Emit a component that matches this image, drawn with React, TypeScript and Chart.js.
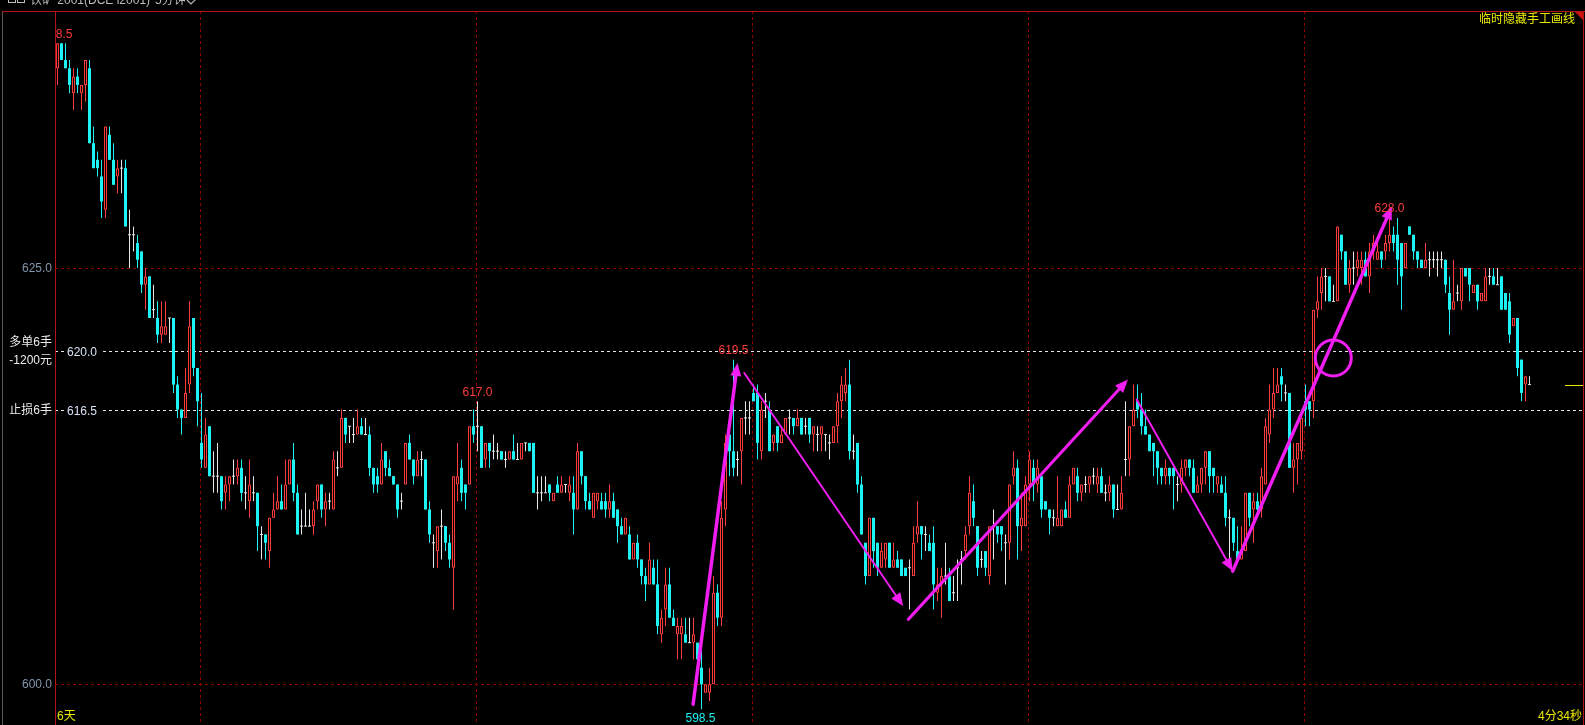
import React, { useEffect, useRef } from 'react';
import { Chart, registerables } from 'chart.js';

Chart.register(...registerables);

// ---- data: 5-minute bars of iron ore i2001 ----
const opens = [
  637, 638.5, 637.5, 637, 635.5, 636.5, 635.5, 636, 637, 632.5,
  631.5, 630.5, 628.5, 633, 631.5, 630.5, 631, 631, 627, 627,
  626.5, 626, 624, 624.5, 622.5, 622, 621, 621, 622, 622,
  618, 616.5, 616, 618, 622, 619, 614.5, 613, 615.5, 612.5,
  612.5, 612.5, 611.5, 612, 612.5, 612.5, 613, 611.5, 611, 611.5,
  611.5, 609, 609, 608, 610, 610.5, 611, 610.5, 612, 613.5,
  611.5, 609.5, 609.5, 609.5, 609.5, 611, 612, 610.5, 611, 610.5,
  613, 613, 616, 615.5, 615, 615, 615.5, 615, 615, 613,
  612.5, 612, 614, 613, 612.5, 612, 611, 612, 614.5, 613.5,
  612.5, 613.5, 613.5, 610.5, 608.5, 608, 609.5, 609.5, 608.5, 607,
  612, 613, 612, 612, 615.5, 615.5, 615.5, 613.5, 614.5, 614,
  614, 614, 613.5, 613.5, 614, 613.5, 613.5, 614.5, 614.5, 614.5,
  611.5, 611.5, 611.5, 612, 611, 612, 611.5, 612, 611.5, 611.5,
  610.5, 614, 612.5, 611, 610, 611, 611, 611, 610.5, 611,
  610.5, 609.5, 609, 609, 607.5, 608.5, 607.5, 606.5, 606, 607,
  606, 603, 604.5, 606, 604, 603, 603, 603, 602.5, 602.5,
  602.5, 601, 599.5, 599.5, 600, 605.5, 604, 610.5, 615, 614,
  613.5, 614, 616, 616, 617.5, 617.5, 614, 617, 616.5, 614.5,
  615.5, 614.5, 615, 616, 616, 615.5, 616, 615.5, 616, 615,
  615, 615, 615, 614.5, 614.5, 615.5, 617, 617.5, 618, 614,
  614.5, 612, 608.5, 606.5, 610, 608.5, 607, 607.5, 608.5, 607,
  607.5, 607.5, 607, 607, 606.5, 609, 609.5, 609, 608.5, 608.5,
  605.5, 606, 606.5, 606.5, 605.5, 607, 607.5, 608, 609.5, 611,
  609.5, 607.5, 608, 606.5, 609.5, 609.5, 609.5, 608.5, 608.5, 612.5,
  613, 609.5, 609.5, 612, 613, 612, 612.5, 611, 610.5, 610,
  609.5, 609.5, 610.5, 610, 612, 612.5, 611.5, 612, 612, 612.5,
  612, 612.5, 611.5, 611.5, 612, 610.5, 610.5, 613.5, 613.5, 615.5,
  617, 616.5, 615.5, 615, 614.5, 614, 613, 612.5, 613, 613,
  612, 612, 613, 613.5, 613, 611.5, 612, 613, 614, 613,
  612, 612, 611.5, 610, 610, 608, 607.5, 608, 611.5, 610.5,
  611, 610.5, 612, 615, 616.5, 617.5, 618.5, 617.5, 617.5, 613,
  613.5, 614, 617, 617, 617, 622.5, 623.5, 624.5, 624.5, 623,
  623, 627, 626, 624, 625, 625, 625, 625.5, 624.5, 626,
  625.5, 626, 626, 626.5, 627, 627, 626.5, 625, 627.5, 627,
  626, 625.5, 625, 625.5, 625.5, 625.5, 625.5, 625.5, 623.5, 622.5,
  623.5, 623, 625, 625, 623.5, 624, 623, 623, 624.5, 624.5,
  624, 624.5, 623.5, 623, 621.5, 622, 619.5, 618, 618,
];

const highs = [
  638.5, 638.5, 638.5, 637.5, 637, 637, 636, 637.5, 637.5, 633.5,
  632, 631.5, 633.5, 633.5, 632.5, 631.5, 631.5, 631.5, 628.5, 627.5,
  627, 626, 625, 624.5, 624, 623, 623, 623, 622, 622,
  618.5, 616.5, 619, 623, 622, 619, 617.5, 616, 615.5, 614,
  614.5, 612.5, 612.5, 612.5, 613.5, 613.5, 613.5, 612.5, 613.5, 612.5,
  611.5, 609.5, 609, 610, 611.5, 612.5, 612, 613.5, 613.5, 614.5,
  612, 610.5, 611.5, 610.5, 611, 612, 612, 611.5, 611.5, 614,
  614, 616.5, 616, 615.5, 616, 616.5, 616, 616, 615.5, 613,
  613, 614.5, 614, 613.5, 612.5, 612, 611.5, 614.5, 615, 613.5,
  614, 614, 613.5, 611, 609, 609.5, 610.5, 609.5, 609, 612.5,
  614.5, 613.5, 612, 615.5, 616.5, 617, 615.5, 614.5, 614.5, 615,
  614.5, 614, 614, 614, 615, 614.5, 614.5, 614.5, 614.5, 614.5,
  612.5, 612.5, 612.5, 612, 611.5, 612.5, 612.5, 612, 612.5, 612.5,
  614.5, 614, 612.5, 611.5, 611.5, 611.5, 611.5, 611.5, 612, 611.5,
  610.5, 610, 610, 609.5, 608.5, 609, 607.5, 607, 608.5, 607.5,
  607.5, 604.5, 607, 607, 604.5, 604, 604, 604, 604, 604,
  602.5, 602, 600, 601, 606.5, 606, 611, 615, 616, 619.5,
  614, 616, 617, 617, 618, 618, 617, 617.5, 617, 615,
  615.5, 615.5, 616, 616.5, 616, 616.5, 616, 616, 616, 615.5,
  615.5, 615.5, 615, 615, 615.5, 617.5, 618.5, 619, 619.5, 615,
  614.5, 612.5, 608.5, 610, 610, 608.5, 608.5, 608.5, 608.5, 608.5,
  608, 607.5, 607, 607.5, 609.5, 611, 609.5, 609.5, 609, 609.5,
  607, 607, 608.5, 607, 606.5, 607.5, 608, 609.5, 612.5, 612,
  609.5, 608, 608, 609.5, 610.5, 609.5, 609.5, 609, 612, 614,
  613.5, 611.5, 612.5, 614, 613.5, 613.5, 612.5, 611, 610.5, 610.5,
  612.5, 610.5, 611, 612.5, 613, 613, 612, 612.5, 612.5, 613,
  613, 613, 612, 612.5, 612, 612, 612.5, 617, 615.5, 618,
  618, 617.5, 616.5, 615, 614.5, 614, 613, 613.5, 613, 613,
  612.5, 613.5, 613.5, 613.5, 613.5, 612.5, 613, 614, 614, 613,
  612.5, 612.5, 612.5, 610.5, 610, 609.5, 609.5, 611.5, 611.5, 611.5,
  611.5, 613, 616, 618, 619, 619, 619, 618, 617.5, 614.5,
  614.5, 616, 618, 617, 622.5, 624.5, 625, 625, 624.5, 624,
  627.5, 627, 626, 625.5, 626, 626, 626, 626, 626.5, 627,
  626.5, 626, 627, 628, 627.5, 628, 626.5, 626.5, 627.5, 627,
  626, 625.5, 626.5, 626, 626, 626, 626, 625.5, 624.5, 625.5,
  624, 625, 625, 625, 624, 624, 623.5, 625, 625, 625,
  625, 624.5, 623.5, 623.5, 622, 622, 619.5, 618.5, 618.5,
];

const lows = [
  636, 637.5, 637, 635.5, 634.5, 635.5, 634.5, 635, 632.5, 631,
  630.5, 628, 628, 631.5, 630, 629.5, 629.5, 627.5, 625, 626,
  625, 623.5, 622.5, 622, 622, 620.5, 620.5, 621, 620.5, 617.5,
  616, 615, 616, 617.5, 618.5, 615.5, 613, 613, 612.5, 611.5,
  611.5, 610.5, 610.5, 611, 612, 612, 611, 610.5, 610, 611,
  608, 607.5, 607.5, 607, 610, 610.5, 610.5, 610.5, 612, 611,
  609, 609, 609.5, 609.5, 609, 610.5, 610, 609.5, 610.5, 610.5,
  612.5, 613, 614.5, 614.5, 614.5, 615, 615, 615, 612.5, 611.5,
  611.5, 612, 612.5, 612.5, 612, 610, 610.5, 612, 613.5, 612,
  612.5, 612.5, 610.5, 608.5, 607, 607, 607.5, 608, 607, 604.5,
  611, 611, 610.5, 612, 614.5, 614, 613, 613, 613, 613.5,
  613.5, 613.5, 613, 613.5, 613.5, 613.5, 613.5, 614, 614, 611.5,
  610.5, 611, 611.5, 611, 611, 611.5, 611.5, 611.5, 611, 609,
  610.5, 612, 610.5, 610.5, 610, 610.5, 610.5, 610, 610, 610,
  608.5, 609, 609, 607.5, 607.5, 607, 606, 605, 606, 606,
  603, 602.5, 603.5, 604, 603.5, 601.5, 601.5, 602.5, 602.5, 601.5,
  600.5, 598.5, 599.5, 599, 600, 603.5, 603.5, 609.5, 612.5, 612.5,
  612.5, 612, 615, 615, 617, 613.5, 613.5, 616, 614, 614,
  614, 614.5, 615, 615, 615, 615.5, 615, 615, 614.5, 614,
  614, 614, 614, 613.5, 614.5, 614.5, 616, 617, 613.5, 613.5,
  611.5, 609, 606, 606.5, 607, 606.5, 607, 607, 607, 607,
  607, 606.5, 606.5, 604.5, 606.5, 608.5, 607.5, 608, 608, 604.5,
  605, 604, 606, 605, 605, 605, 606, 607.5, 609, 609.5,
  606.5, 607, 606.5, 606, 607.5, 608.5, 608, 606, 607.5, 612,
  607.5, 608, 609.5, 611, 611, 611.5, 610, 610.5, 609, 609.5,
  609.5, 609.5, 610, 610, 612, 611, 611, 611.5, 611.5, 612,
  611.5, 611.5, 611, 611, 610, 610.5, 610.5, 612.5, 612.5, 615.5,
  616, 615, 615, 614, 612.5, 612, 612, 612, 612, 610.5,
  611, 611.5, 612.5, 612.5, 611.5, 611.5, 611.5, 612, 611.5, 611.5,
  611.5, 611.5, 609.5, 607.5, 608, 607.5, 607.5, 608, 609.5, 608.5,
  610, 610, 612, 614.5, 616, 617.5, 617, 617, 613, 611.5,
  612, 613.5, 615.5, 615.5, 616, 622, 622.5, 623, 623, 623,
  623, 625.5, 624, 623.5, 624, 624.5, 624, 624.5, 623.5, 625.5,
  625.5, 625, 625.5, 626, 626, 624, 622.5, 625, 627, 625.5,
  625, 625, 625, 624.5, 625, 624.5, 625, 623.5, 621, 622.5,
  623, 622.5, 624.5, 623, 623.5, 622.5, 623, 623, 624, 624,
  624, 622.5, 622.5, 620.5, 621.5, 618.5, 617, 617, 618,
];

const closes = [
  638.5, 637.5, 637, 636, 636.5, 636, 636, 637.5, 632.5, 631,
  631, 629, 633.5, 631.5, 630, 631, 631, 627.5, 627, 627,
  625.5, 624, 624.5, 622, 622.5, 621, 621.5, 621.5, 622, 618,
  616.5, 616, 617.5, 621.5, 619, 617, 613.5, 615, 612.5, 612.5,
  612.5, 611, 612, 612.5, 612.5, 613, 611.5, 611.5, 612, 611.5,
  609.5, 609, 608.5, 610, 610.5, 611, 610.5, 612, 613.5, 611.5,
  609, 609.5, 609.5, 609.5, 610.5, 612, 610.5, 611, 611, 613.5,
  613, 616, 615, 615.5, 615, 615.5, 615, 615, 613, 612,
  612, 613.5, 613, 612.5, 612, 610.5, 611, 614.5, 613.5, 612.5,
  613.5, 613.5, 610.5, 609, 608.5, 609.5, 609.5, 608.5, 607.5, 612.5,
  612.5, 611.5, 611.5, 615.5, 615, 615.5, 613, 614.5, 614, 614,
  614, 613.5, 613.5, 614, 613.5, 613.5, 614.5, 614.5, 614, 611.5,
  611.5, 611.5, 611.5, 611.5, 611.5, 611.5, 612, 612, 612, 610.5,
  614, 612.5, 611, 610.5, 611.5, 611.5, 610.5, 610.5, 611, 610,
  609.5, 609, 610, 607.5, 608.5, 607.5, 606.5, 606, 607.5, 606,
  603.5, 604, 606, 604, 603.5, 603.5, 603.5, 602.5, 602.5, 603,
  601.5, 600, 600, 600, 605.5, 604, 610, 614.5, 614, 613,
  613.5, 616, 616, 616, 617, 614.5, 616.5, 617, 614, 615,
  614.5, 615, 616, 616, 615.5, 616, 615, 615.5, 615, 615.5,
  615, 615.5, 615, 614.5, 615.5, 617, 618, 618, 614, 614,
  612, 609, 606.5, 610, 608, 607, 608, 608.5, 607, 607.5,
  607, 606.5, 606.5, 607, 608.5, 609.5, 609, 609, 608, 606,
  606, 606.5, 606.5, 605, 605.5, 607, 607.5, 609, 611.5, 610,
  607, 607.5, 607, 609.5, 609.5, 609, 609, 608.5, 612, 613,
  609.5, 610, 612, 613.5, 612, 613, 610.5, 610.5, 610, 610,
  610, 610.5, 610, 612, 613, 611.5, 612, 612, 612.5, 612.5,
  612.5, 611.5, 611.5, 612, 610.5, 610.5, 611.5, 613.5, 615.5, 616.5,
  616.5, 615.5, 615, 614, 614, 613, 612.5, 613, 612.5, 612.5,
  612, 613, 613.5, 613, 611.5, 612, 613, 614, 612.5, 612.5,
  612.5, 611.5, 610, 610, 608.5, 607.5, 608, 611.5, 610, 611,
  610.5, 612.5, 615.5, 616.5, 617.5, 618, 618, 617.5, 613, 613.5,
  614.5, 616, 616.5, 616.5, 622.5, 623, 624.5, 624.5, 623, 623,
  627.5, 626, 624, 625, 625, 625.5, 625.5, 624.5, 626, 626.5,
  626, 625.5, 626.5, 627, 626.5, 625.5, 624.5, 626.5, 627, 626,
  625.5, 625, 625.5, 625.5, 625.5, 625.5, 625.5, 624, 622.5, 623,
  623.5, 625, 624.5, 624, 624, 623, 623.5, 624.5, 624.5, 624,
  624, 622.5, 622.5, 621, 622, 619, 617.5, 618.5, 618,
];

const dayBreaks = [35.5, 104.5, 173.5, 242.5, 311.5];
const gridPrices = [625, 600];
const gridLabels = ['625.0', '600.0'];
const orderPrices = [620, 616.5];
const orderLabels = ['620.0', '616.5'];
const orderNotes = [['多单6手', '-1200元'], ['止损6手']];
const highMarks = [0, 105, 169, 333];
const lowMarks = [161];
const lastPrice = 618;

// hand-drawn annotations, in (bar index, price)
const handArrows = [
  { from: [158.9, 598.8], to: [170.0, 619.3], width: 3.5 },
  { from: [171.7, 618.7], to: [211.4, 604.7], width: 2 },
  { from: [212.7, 603.9], to: [267.6, 618.3], width: 3 },
  { from: [269.8, 617.1], to: [293.8, 606.8], width: 2 },
  { from: [293.8, 606.8], to: [333.6, 628.7], width: 3.5 },
];
const handCircle = { at: [318.95, 619.6], r: 18 };

const UP = '#ff3c3c';
const DOWN = '#1ef2f2';
const FLAT = '#e6e6e6';
const MAGENTA = '#f01ef0';
const YELLOW = '#e8e800';
const FONT = '12px "Liberation Sans", "Noto Sans CJK SC", sans-serif';

const W = 1585;
const H = 725;
const PAD_L = 55;
const PAD_T = 11;
const PAD_R = 2;
const BAR_PX = 4;
const PX_PER_UNIT = 16.65;
const X_MIN = -0.625;
const X_MAX = X_MIN + (W - PAD_L - PAD_R) / BAR_PX;
const Y_MAX = 620 + (351.3 - PAD_T) / PX_PER_UNIT;
const Y_MIN = Y_MAX - (H - PAD_T) / PX_PER_UNIT;

function drawArrow(ctx: CanvasRenderingContext2D, x1: number, y1: number, x2: number, y2: number, w: number) {
  const dx = x2 - x1, dy = y2 - y1;
  const len = Math.hypot(dx, dy);
  const ux = dx / len, uy = dy / len;
  const hl = 13, hw = 5.5;
  const bx = x2 - ux * hl, by = y2 - uy * hl;
  ctx.lineWidth = w;
  ctx.beginPath();
  ctx.moveTo(x1, y1);
  ctx.lineTo(bx, by);
  ctx.stroke();
  ctx.beginPath();
  ctx.moveTo(x2, y2);
  ctx.lineTo(bx - uy * hw, by + ux * hw);
  ctx.lineTo(bx + uy * hw, by - ux * hw);
  ctx.closePath();
  ctx.fill();
}

const decor = {
  id: 'decor',
  beforeDraw(chart: any) {
    const ctx = chart.ctx as CanvasRenderingContext2D;
    ctx.save();
    ctx.fillStyle = '#000';
    ctx.fillRect(0, 0, chart.width, chart.height);
    ctx.restore();
  },
  beforeDatasetsDraw(chart: any) {
    const ctx = chart.ctx as CanvasRenderingContext2D;
    const a = chart.chartArea;
    const x = chart.scales.x, y = chart.scales.y;
    ctx.save();
    ctx.lineWidth = 1;
    ctx.setLineDash([3, 3]);
    ctx.strokeStyle = '#8c0000';
    dayBreaks.forEach((d) => {
      const px = Math.round(x.getPixelForValue(d)) + 0.5;
      ctx.beginPath();
      ctx.moveTo(px, a.top);
      ctx.lineTo(px, a.bottom);
      ctx.stroke();
    });
    gridPrices.forEach((p) => {
      const py = Math.round(y.getPixelForValue(p)) + 0.5;
      ctx.beginPath();
      ctx.moveTo(a.left, py);
      ctx.lineTo(a.right, py);
      ctx.stroke();
    });
    ctx.strokeStyle = '#e6e6e6';
    ctx.font = FONT;
    ctx.textBaseline = 'middle';
    ctx.textAlign = 'left';
    orderPrices.forEach((p, k) => {
      const py = Math.round(y.getPixelForValue(p)) + 0.5;
      ctx.beginPath();
      ctx.moveTo(a.left, py);
      ctx.lineTo(a.right, py);
      ctx.stroke();
      ctx.fillStyle = '#000';
      ctx.fillRect(a.left + 11, py - 7, 35, 14);
      ctx.fillStyle = '#d6e2f4';
      ctx.fillText(orderLabels[k], a.left + 12, py + 1);
    });
    ctx.restore();
  },
  afterDatasetsDraw(chart: any) {
    const ctx = chart.ctx as CanvasRenderingContext2D;
    const a = chart.chartArea;
    const x = chart.scales.x, y = chart.scales.y;
    ctx.save();

    // hand-drawn magenta annotations
    ctx.strokeStyle = MAGENTA;
    ctx.fillStyle = MAGENTA;
    ctx.lineCap = 'round';
    handArrows.forEach((h) => {
      drawArrow(
        ctx,
        x.getPixelForValue(h.from[0]), y.getPixelForValue(h.from[1]),
        x.getPixelForValue(h.to[0]), y.getPixelForValue(h.to[1]),
        h.width,
      );
    });
    ctx.lineWidth = 3;
    ctx.beginPath();
    ctx.arc(x.getPixelForValue(handCircle.at[0]), y.getPixelForValue(handCircle.at[1]), handCircle.r, 0, Math.PI * 2);
    ctx.stroke();

    // high / low marks, clipped to the plot area
    ctx.save();
    ctx.beginPath();
    ctx.rect(a.left + 1, a.top + 1, a.right - a.left - 1, a.bottom - a.top);
    ctx.clip();
    ctx.font = FONT;
    ctx.textAlign = 'center';
    ctx.textBaseline = 'middle';
    ctx.fillStyle = UP;
    highMarks.forEach((i) => {
      ctx.fillText(highs[i].toFixed(1), x.getPixelForValue(i), y.getPixelForValue(highs[i]) - 9);
    });
    ctx.fillStyle = DOWN;
    lowMarks.forEach((i) => {
      ctx.fillText(lows[i].toFixed(1), x.getPixelForValue(i) - 1, y.getPixelForValue(lows[i]) + 9);
    });
    ctx.restore();

    // frame
    ctx.lineCap = 'butt';
    ctx.setLineDash([]);
    ctx.lineWidth = 1;
    ctx.strokeStyle = '#5a5a5a';
    ctx.beginPath();
    ctx.moveTo(2.5, 11);
    ctx.lineTo(2.5, H);
    ctx.stroke();
    ctx.strokeStyle = '#b41414';
    ctx.beginPath();
    ctx.moveTo(2, 11.5);
    ctx.lineTo(W, 11.5);
    ctx.moveTo(55.5, 11);
    ctx.lineTo(55.5, H);
    ctx.moveTo(1583.5, 11);
    ctx.lineTo(1583.5, H);
    ctx.stroke();
    ctx.fillStyle = '#c81414';
    ctx.beginPath();
    ctx.moveTo(1575, 12);
    ctx.lineTo(1583, 12);
    ctx.lineTo(1583, 20);
    ctx.closePath();
    ctx.fill();

    // last price marker
    const lp = Math.round(y.getPixelForValue(lastPrice)) + 0.5;
    ctx.strokeStyle = YELLOW;
    ctx.beginPath();
    ctx.moveTo(1565, lp);
    ctx.lineTo(1583, lp);
    ctx.stroke();

    // left side labels
    ctx.font = FONT;
    ctx.textBaseline = 'middle';
    ctx.textAlign = 'right';
    ctx.fillStyle = '#8296ad';
    gridPrices.forEach((p, k) => {
      ctx.fillText(gridLabels[k], 52, Math.round(y.getPixelForValue(p)) + 1);
    });
    ctx.fillStyle = '#ececec';
    orderPrices.forEach((p, k) => {
      const py = Math.round(y.getPixelForValue(p));
      const notes = orderNotes[k];
      if (notes.length === 2) {
        ctx.fillText(notes[0], 52, py - 8);
        ctx.fillText(notes[1], 52, py + 10);
      } else {
        ctx.fillText(notes[0], 52, py + 1);
      }
    });

    // header (partly cut off at top)
    ctx.textAlign = 'left';
    ctx.textBaseline = 'alphabetic';
    ctx.fillStyle = '#bcbcbc';
    ctx.fillText('铁矿 2001(DCE i2001)', 30, 4);
    ctx.fillText('5分钟', 155, 4);
    ctx.strokeStyle = '#bcbcbc';
    ctx.lineWidth = 1.2;
    ctx.beginPath();
    ctx.moveTo(187, 0);
    ctx.lineTo(191, 4);
    ctx.lineTo(196, -1);
    ctx.stroke();
    ctx.lineWidth = 1;
    ctx.strokeRect(8.5, -4.5, 7, 7);
    ctx.strokeRect(17.5, -4.5, 7, 7);

    // yellow texts
    ctx.fillStyle = YELLOW;
    ctx.textBaseline = 'middle';
    ctx.textAlign = 'right';
    ctx.fillText('临时隐藏手工画线', 1575, 20);
    ctx.fillText('4分34秒', 1582, 717);
    ctx.textAlign = 'left';
    ctx.fillText('6天', 57, 717);

    ctx.restore();
  },
};

export default function App() {
  const ref = useRef<HTMLCanvasElement>(null);

  useEffect(() => {
    const canvas = ref.current;
    if (!canvas) return;
    const idx = closes.map((_, i) => i);
    const colour = idx.map((i) => (closes[i] > opens[i] ? UP : closes[i] < opens[i] ? DOWN : FLAT));
    const bodies = idx.map((i) => {
      const lo = Math.min(opens[i], closes[i]);
      const hi = Math.max(opens[i], closes[i]);
      return { x: i, y: lo === hi ? [lo - 0.03, hi + 0.03] : [lo, hi] };
    });
    const wicks = idx.map((i) => ({ x: i, y: [lows[i], highs[i]] }));

    const chart = new Chart(canvas, {
      type: 'bar',
      data: {
        datasets: [
          {
            data: bodies as any,
            backgroundColor: idx.map((i) => (closes[i] > opens[i] ? '#000000' : colour[i])),
            borderColor: colour,
            borderWidth: idx.map((i) => (closes[i] > opens[i] ? 1 : 0)),
            borderSkipped: false,
            barThickness: 3,
            grouped: false,
            order: 0,
            inflateAmount: 0,
          } as any,
          {
            data: wicks as any,
            backgroundColor: colour,
            borderWidth: 0,
            barThickness: 1,
            grouped: false,
            order: 1,
            inflateAmount: 0,
          } as any,
        ],
      },
      options: {
        responsive: false,
        animation: false,
        devicePixelRatio: 1,
        events: [],
        layout: { padding: { left: PAD_L, top: PAD_T, right: PAD_R, bottom: 0 } },
        scales: {
          x: { type: 'linear', min: X_MIN, max: X_MAX, display: false, offset: false },
          y: { type: 'linear', min: Y_MIN, max: Y_MAX, display: false },
        },
        plugins: { legend: { display: false }, tooltip: { enabled: false } },
      } as any,
      plugins: [decor as any],
    });
    return () => chart.destroy();
  }, []);

  return (
    <div style={{ position: 'fixed', left: 0, top: 0, width: W, height: H, background: '#000' }}>
      <canvas ref={ref} width={W} height={H} style={{ display: 'block', width: W, height: H }} />
    </div>
  );
}
